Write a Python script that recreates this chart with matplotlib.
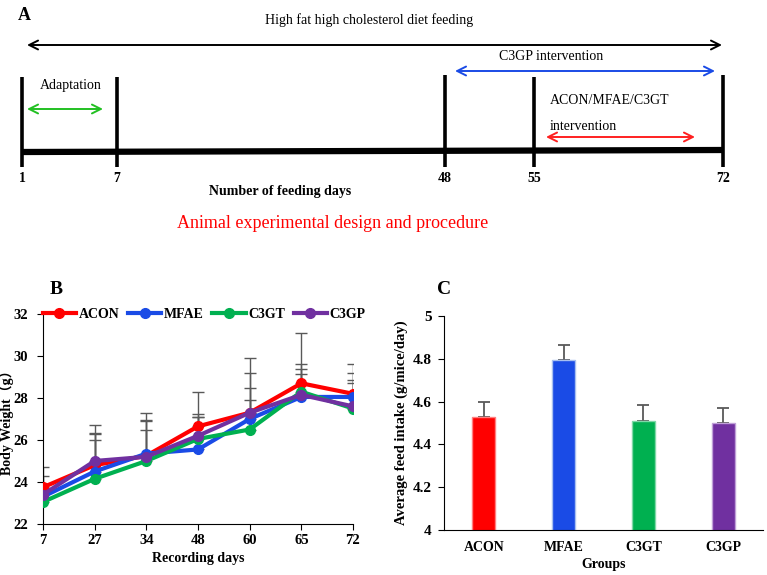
import matplotlib
matplotlib.use("Agg")
import matplotlib.pyplot as plt
import numpy as np

plt.rcParams['font.family'] = ['Liberation Serif', 'Noto Sans CJK SC']

# --- data -------------------------------------------------------------------
timeline_days = ["1", "7", "48", "55", "72"]

record_days = ["7", "27", "34", "48", "60", "65", "72"]
acon = [23.75, 24.8, 25.25, 26.65, 27.3, 28.7, 28.2]
mfae = [23.3, 24.5, 25.35, 25.55, 27.0, 28.05, 28.05]
c3gt = [23.05, 24.15, 25.0, 26.05, 26.5, 28.3, 27.5]
c3gp = [23.4, 25.0, 25.2, 26.2, 27.3, 28.15, 27.6]
acon_err = [0.95, 1.9, 2.05, 1.65, 2.6, 2.4, 1.4]
mfae_err = [0.6, 1.8, 1.6, 1.7, 2.2, 1.55, 1.15]
c3gt_err = [0.8, 1.85, 1.5, 1.05, 1.4, 1.1, 1.35]
c3gp_err = [0.9, 1.35, 1.7, 0.9, 1.2, 1.0, 1.1]

groups = ["ACON", "MFAE", "C3GT", "C3GP"]
intake = [4.53, 4.795, 4.51, 4.50]
intake_err = [0.07, 0.07, 0.075, 0.07]

colors = ["#ff0000", "#1a4be6", "#00b050", "#7030a0"]
edge_colors = ["#ff8080", "#a8c0f0", "#80d8a8", "#c0a0d8"]

# --- figure -----------------------------------------------------------------
fig = plt.figure(figsize=(7.67, 5.75), dpi=100)

# panel A drawn in pixel coordinates
axA = fig.add_axes([0, 0, 1, 1])
axA.set_xlim(0, 767)
axA.set_ylim(575, 0)
axA.axis("off")

day_x = [22, 117, 445, 534, 723]
tick_top = [77, 77, 75, 77, 75]
for x, top, lab in zip(day_x, tick_top, timeline_days):
    axA.plot([x, x], [top, 167], color="black", lw=2.6, solid_capstyle="butt")
    axA.text(x, 179, lab, ha="center", va="center", fontsize=10, fontweight="bold")
axA.plot([22, 723], [152, 150], color="black", lw=4.5, solid_capstyle="butt")

def arrow(x0, x1, y, col):
    axA.annotate("", xy=(x1, y), xytext=(x0, y),
                 arrowprops=dict(arrowstyle="<->", color=col, lw=1.4,
                                 mutation_scale=16, shrinkA=0, shrinkB=0))

arrow(27, 722, 45, "black")
arrow(455, 715, 71, "#1a4be6")
arrow(27, 103, 109, "#22c022")
arrow(546, 695, 137, "#ff2020")

axA.text(18, 15, "A", fontsize=13, fontweight="bold", va="center")
axA.text(369, 20, "High fat high cholesterol diet feeding", ha="center", va="center", fontsize=10)
axA.text(551, 57, "C3GP intervention", ha="center", va="center", fontsize=10)
axA.text(40, 85, "Adaptation", ha="left", va="center", fontsize=10)
axA.text(550, 101, "ACON/MFAE/C3GT", ha="left", va="center", fontsize=10)
axA.text(550, 127, "intervention", ha="left", va="center", fontsize=10)
axA.text(280, 191, "Number of feeding days", ha="center", va="center", fontsize=10, fontweight="bold")
axA.text(333, 224, "Animal experimental design and procedure", ha="center", va="center",
         fontsize=13, color="#ff0000")

axA.text(50, 290, "B", fontsize=14, fontweight="bold", va="center")
axA.text(437, 290, "C", fontsize=14, fontweight="bold", va="center")

# panel B
axB = fig.add_axes([43 / 767, 1 - 524 / 575, 310 / 767, 210 / 575])
xi = np.arange(len(record_days))
series = [(acon, acon_err, "ACON"), (mfae, mfae_err, "MFAE"),
          (c3gt, c3gt_err, "C3GT"), (c3gp, c3gp_err, "C3GP")]
for (vals, err, lab), col in zip(series, colors):
    axB.errorbar(xi, vals, yerr=[np.zeros(len(err)), err], fmt="none",
                 ecolor="#595959", elinewidth=1, capsize=4, capthick=1, zorder=1)
for (vals, err, lab), col in zip(series, colors):
    axB.plot(xi, vals, color=col, lw=3, marker="o", markersize=7, label=lab, zorder=3)
axB.set_xlim(0, 6)
axB.set_ylim(22, 32)
axB.set_xticks(xi)
axB.set_xticklabels(record_days)
axB.set_yticks(np.arange(22, 33, 2))
axB.spines["top"].set_visible(False)
axB.spines["right"].set_visible(False)
axB.tick_params(axis="x", labelsize=10.5, length=4)
axB.tick_params(axis="y", labelsize=10.5, length=4, pad=6.5)
for t in axB.get_xticklabels() + axB.get_yticklabels():
    t.set_fontweight("bold")
axB.set_xlabel("Recording days", fontsize=10, fontweight="bold", labelpad=3)
axB.set_ylabel("Body Weight（g）", fontsize=10, fontweight="bold", labelpad=0)
axB.legend(loc="center", bbox_to_anchor=(0.52, 1.0), ncol=4, frameon=False,
           prop={"weight": "bold", "size": 10}, handlelength=2.4,
           handletextpad=0.2, columnspacing=0.6, borderaxespad=0)

# panel C
axC = fig.add_axes([444 / 767, 1 - 530 / 575, 319 / 767, 214 / 575])
gi = np.arange(len(groups))
axC.bar(gi, intake, width=0.29, color=colors, edgecolor=edge_colors, linewidth=1, zorder=2)
axC.errorbar(gi, intake, yerr=[np.zeros(len(intake_err)), intake_err], fmt="none",
             ecolor="#595959", elinewidth=1.3, capsize=4, capthick=1.3, zorder=1)
axC.set_xlim(-0.5, 3.5)
axC.set_ylim(4, 5)
axC.set_xticks(gi)
axC.set_xticklabels(groups)
axC.set_yticks([4, 4.2, 4.4, 4.6, 4.8, 5])
axC.set_yticklabels(["4", "4.2", "4.4", "4.6", "4.8", "5"])
axC.spines["top"].set_visible(False)
axC.spines["right"].set_visible(False)
axC.tick_params(axis="x", length=0, labelsize=10, pad=8)
axC.tick_params(axis="y", length=4, labelsize=11, pad=5)
for t in axC.get_xticklabels() + axC.get_yticklabels():
    t.set_fontweight("bold")
axC.set_xlabel("Groups", fontsize=10, fontweight="bold", labelpad=3)
axC.set_ylabel("Average feed intake (g/mice/day)", fontsize=10.5, fontweight="bold", labelpad=3)

fig.savefig("out.png", dpi=100)
